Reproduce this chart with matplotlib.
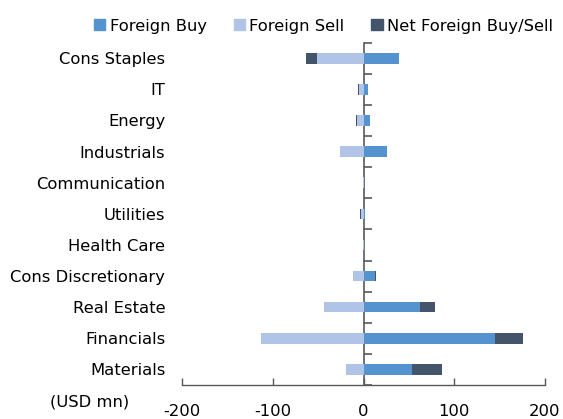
import matplotlib
matplotlib.use("Agg")
import matplotlib.pyplot as plt
import matplotlib.patches as mpatches
import numpy as np

categories = ["Cons Staples", "IT", "Energy", "Industrials", "Communication",
              "Utilities", "Health Care", "Cons Discretionary", "Real Estate",
              "Financials", "Materials"]
foreign_buy = [39, 5, 7, 26, 0.5, 2, 0.5, 13, 62, 145, 53]
foreign_sell = [-51, -5, -7, -26, -0.5, -3, -0.3, -12, -43, -113, -19]
net_flow = [-12, -1, -1, 0, 0, -1, 0.2, 1, 17, 31, 34]
x_ticks = [-200, -100, 0, 100, 200]

c_buy = "#5592D0"
c_sell = "#B0C4E8"
c_net = "#44546A"
axis_col = "#595959"
fs = 11.8

plt.rcParams["font.family"] = ["DejaVu Sans"]

fig = plt.figure(figsize=(5.63, 4.19), dpi=100)
ax = fig.add_axes([182/563, 1-385/419, (545-182)/563, (385-42.7)/419])

n = len(categories)
y = np.arange(n)[::-1]
h = 0.34
buy = np.array(foreign_buy, float)
sell = np.array(foreign_sell, float)
net = np.array(net_flow, float)
net_left = np.where(net >= 0, buy, sell)

ax.barh(y, buy, height=h, color=c_buy, zorder=2)
ax.barh(y, sell, height=h, color=c_sell, zorder=2)
ax.barh(y, net, left=net_left, height=h, color=c_net, zorder=2)

ax.set_xlim(-200, 200)
ax.set_ylim(-0.5, n - 0.5)
ax.set_xticks(x_ticks)
ax.set_xticklabels([str(v) for v in x_ticks], fontsize=fs)
ax.tick_params(axis="x", direction="in", length=5, width=1, color=axis_col, pad=14)
ax.set_yticks(y)
ax.set_yticklabels(categories, fontsize=fs)
ax.tick_params(axis="y", length=0, pad=12)

for s in ["top", "right", "left"]:
    ax.spines[s].set_visible(False)
ax.spines["bottom"].set_color(axis_col)
ax.spines["bottom"].set_linewidth(1)

sec = ax.secondary_yaxis(0.5)
sec.set_yticks(np.arange(n + 1) - 0.5)
sec.set_yticklabels([])
sec.tick_params(direction="out", length=6, width=1.2, color=axis_col)
sec.yaxis.set_ticks_position("right")
sec.spines["left"].set_color(axis_col)
sec.spines["left"].set_linewidth(1.2)
sec.spines["right"].set_color(axis_col)
sec.spines["right"].set_linewidth(1.2)

fig.text(50/563, 1-402/419, "(USD mn)", fontsize=fs, va="center", ha="left")

handles = [mpatches.Patch(color=c_buy, label="Foreign Buy"),
           mpatches.Patch(color=c_sell, label="Foreign Sell"),
           mpatches.Patch(color=c_net, label="Net Foreign Buy/Sell")]
fig.legend(handles=handles, loc="center", bbox_to_anchor=(323.5/563, 1-26/419),
           ncol=3, frameon=False, fontsize=fs, handlelength=0.7,
           handleheight=0.7, handletextpad=0.25, columnspacing=1.65,
           borderaxespad=0)

fig.savefig("out.png", dpi=100)
